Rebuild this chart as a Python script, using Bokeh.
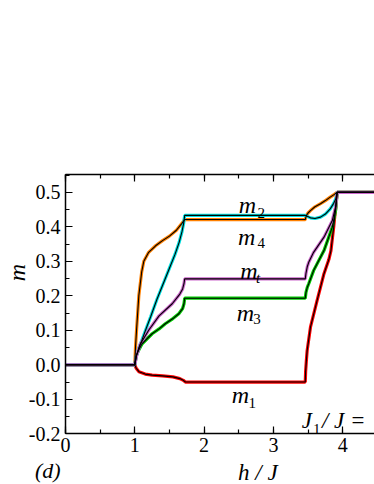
from bokeh.plotting import figure
from bokeh.models import (Range1d, LinearAxis, SingleIntervalTicker,
                          NumeralTickFormatter, Label, CustomJSTickFormatter)
from bokeh.embed import file_html
from bokeh.resources import INLINE

# ---- data ----
h_m4 = [0, 1.0, 1.01, 1.025, 1.058, 1.1, 1.13, 1.2, 1.3, 1.4, 1.5, 1.6, 1.68, 1.72,
        3.46, 3.465, 3.48, 3.5, 3.535, 3.6, 3.68, 3.75, 3.82, 3.88, 3.92, 5.0]
m4 = [0, 0, 0.05, 0.10, 0.20, 0.27, 0.30, 0.326, 0.345, 0.36, 0.373, 0.39, 0.41, 0.421,
      0.421, 0.425, 0.434, 0.44, 0.447, 0.458, 0.467, 0.476, 0.486, 0.494, 0.5, 0.5]

h_m2 = [0, 1.0, 1.02, 1.06, 1.1, 1.155, 1.23, 1.32, 1.42, 1.5, 1.58, 1.64, 1.68, 1.705, 1.72,
        3.46, 3.48, 3.535, 3.6, 3.68, 3.75, 3.82, 3.87, 3.9, 3.92, 5.0]
m2 = [0, 0, 0.025, 0.05, 0.07, 0.10, 0.14, 0.19, 0.24, 0.28, 0.32, 0.355, 0.385, 0.41, 0.433,
      0.433, 0.431, 0.426, 0.424, 0.428, 0.437, 0.452, 0.468, 0.481, 0.5, 0.5]

h_mt = [0, 1.0, 1.03, 1.08, 1.2, 1.35, 1.54, 1.65, 1.69, 1.71, 1.72,
        3.46, 3.47, 3.49, 3.51, 3.58, 3.73, 3.85, 3.9, 3.92, 5.0]
mt = [0, 0, 0.03, 0.06, 0.10, 0.142, 0.177, 0.205, 0.22, 0.235, 0.249,
      0.249, 0.265, 0.285, 0.297, 0.326, 0.37, 0.418, 0.46, 0.5, 0.5]

h_m3 = [0, 1.0, 1.02, 1.05, 1.105, 1.25, 1.35, 1.44, 1.55, 1.635, 1.69, 1.71, 1.72,
        3.46, 3.47, 3.49, 3.51, 3.58, 3.73, 3.85, 3.9, 3.92, 5.0]
m3 = [0, 0, 0.025, 0.04, 0.061, 0.09, 0.104, 0.119, 0.134, 0.148, 0.163, 0.177, 0.193,
      0.193, 0.21, 0.225, 0.235, 0.273, 0.331, 0.399, 0.45, 0.5, 0.5]

h_m1 = [0, 1.0, 1.02, 1.06, 1.15, 1.25, 1.4, 1.55, 1.65, 1.7, 1.73,
        3.46, 3.465, 3.475, 3.487, 3.535, 3.63, 3.73, 3.8, 3.83, 3.87, 3.92, 5.0]
m1 = [0, 0, -0.01, -0.02, -0.027, -0.03, -0.032, -0.035, -0.04, -0.045, -0.05,
      -0.05, -0.02, 0.01, 0.041, 0.109, 0.186, 0.264, 0.305, 0.33, 0.399, 0.5, 0.5]

series = [  # (h, m, colour) in drawing order
    (h_m1, m1, "#ff0000"),
    (h_m3, m3, "#00cc00"),
    (h_m4, m4, "#ff8000"),
    (h_m2, m2, "#00e0e0"),
    (h_mt, mt, "#cc66cc"),
]

FONT = "Liberation Serif"
X0, X1 = 0.0, 5.0          # axis extent (right end beyond the visible edge)
Y0, Y1 = -0.2, 0.5516      # plotted box

p = figure(width=374, height=484, output_backend="svg", toolbar_location=None,
           x_range=Range1d(-0.938, 4.459), y_range=Range1d(-0.347, 1.056),
           min_border=0, x_axis_type=None, y_axis_type=None)
p.outline_line_color = None
p.grid.visible = False
p.background_fill_color = "white"
p.border_fill_color = "white"

def style_axis(ax):
    ax.axis_line_color = "black"
    ax.axis_line_width = 1.5
    ax.major_tick_in = 7
    ax.major_tick_out = 0
    ax.minor_tick_in = 4
    ax.minor_tick_out = 0
    ax.major_tick_line_width = 1.2
    ax.minor_tick_line_width = 1.2
    ax.major_label_text_font = FONT
    ax.major_label_text_font_size = "20px"
    ax.major_label_text_color = "black"

xb = LinearAxis(ticker=SingleIntervalTicker(interval=1, num_minor_ticks=2),
                fixed_location=Y0, bounds=(X0, X1))
style_axis(xb)
xb.major_label_standoff = 4
p.add_layout(xb, "below")

xt = LinearAxis(ticker=SingleIntervalTicker(interval=1, num_minor_ticks=2),
                formatter=CustomJSTickFormatter(code="return ''"),
                fixed_location=Y1, bounds=(X0, X1))
style_axis(xt)
p.add_layout(xt, "above")

yl = LinearAxis(ticker=SingleIntervalTicker(interval=0.1, num_minor_ticks=2),
                formatter=NumeralTickFormatter(format="0.0"),
                fixed_location=X0, bounds=(Y0, Y1))
style_axis(yl)
yl.major_label_standoff = 5
p.add_layout(yl, "left")

for h, m, c in series:
    p.line(h, m, line_color=c, line_width=3.2)
for h, m, c in series:
    p.line(h, m, line_color="black", line_width=1.1)

def lab(x, y, t, size, italic=True, **kw):
    p.add_layout(Label(x=x, y=y, text=t, text_font=FONT, text_font_size=size,
                       text_font_style="italic" if italic else "normal",
                       text_color="black", text_baseline="alphabetic", **kw))

# curve labels
lab(2.50, 0.462, "m", "24px"); lab(2.77, 0.441, "2", "15px", italic=False)
lab(2.49, 0.369, "m", "24px"); lab(2.77, 0.352, "4", "15px", italic=False)
lab(2.52, 0.273, "m", "24px"); lab(2.75, 0.253, "t", "15px")
lab(2.47, 0.149, "m", "24px"); lab(2.71, 0.134, "3", "15px", italic=False)
lab(2.40, -0.089, "m", "24px"); lab(2.64, -0.112, "1", "15px", italic=False)
# parameter label (the picture cuts it at the right edge)
lab(3.41, -0.161, "J", "23px"); lab(3.57, -0.185, "1", "15px", italic=False)
lab(3.70, -0.161, "/ J =", "23px")
# axis titles and panel tag
lab(2.49, -0.311, "h / J", "23px")
lab(-0.44, -0.306, "(d)", "22px")
lab(-0.70, 0.2675, "m", "24px", angle=1.5708, text_align="center")

open("out.html", "w").write(file_html(p, INLINE))
